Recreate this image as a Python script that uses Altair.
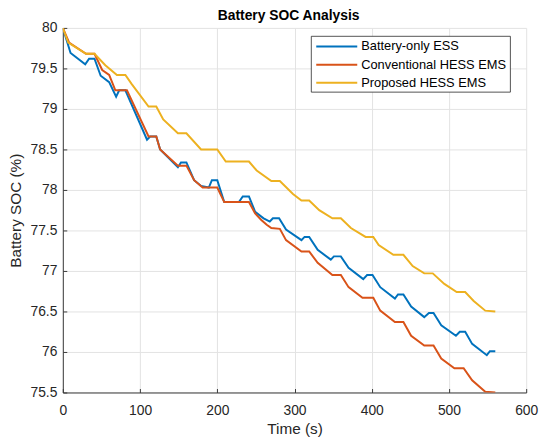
import altair as alt
import pandas as pd

# ---------------- data ----------------
series_names = ["Battery-only ESS", "Conventional HESS EMS", "Proposed HESS EMS"]
series_colors = ["#0072BD", "#D95319", "#EDB120"]

t_battery = [0, 10, 29, 34, 41, 49, 60, 69, 73, 81, 109, 113, 121, 126, 149, 153, 160,
             170, 179, 189, 193, 200, 209, 228, 233, 241, 249, 260, 268, 272, 280, 289,
             309, 313, 319, 330, 347, 351, 360, 370, 389, 394, 401, 411, 430, 434, 441,
             451, 468, 474, 480, 490, 509, 514, 521, 530, 549, 553, 560]
soc_battery = [80, 79.69, 79.55, 79.62, 79.62, 79.41, 79.33, 79.15, 79.23, 79.23, 78.62,
               78.66, 78.66, 78.50, 78.28, 78.34, 78.34, 78.12, 78.05, 78.03, 78.12, 78.12,
               77.85, 77.85, 77.92, 77.92, 77.73, 77.65, 77.61, 77.65, 77.65, 77.51, 77.38,
               77.42, 77.42, 77.26, 77.14, 77.18, 77.18, 77.04, 76.90, 76.95, 76.95, 76.80,
               76.66, 76.71, 76.71, 76.56, 76.43, 76.48, 76.48, 76.33, 76.20, 76.25, 76.25,
               76.10, 75.96, 76.01, 76.01]

t_conv = [0, 8, 30, 41, 51, 60, 68, 83, 111, 121, 126, 149, 160, 170, 181, 200, 209, 241,
          249, 257, 264, 270, 281, 289, 309, 319, 330, 349, 360, 370, 388, 402, 411, 430,
          441, 451, 468, 480, 490, 507, 519, 530, 547, 560]
soc_conv = [80, 79.82, 79.68, 79.68, 79.48, 79.42, 79.23, 79.23, 78.66, 78.66, 78.50, 78.30,
            78.30, 78.12, 78.03, 78.03, 77.85, 77.85, 77.71, 77.63, 77.57, 77.53, 77.52,
            77.38, 77.24, 77.24, 77.10, 76.95, 76.95, 76.80, 76.67, 76.67, 76.51, 76.37,
            76.37, 76.20, 76.08, 76.08, 75.92, 75.80, 75.80, 75.65, 75.51, 75.50]

t_prop = [0, 7, 30, 41, 55, 70, 81, 89, 111, 121, 130, 149, 160, 179, 200, 211, 241, 251,
          270, 281, 298, 309, 319, 332, 349, 360, 373, 392, 402, 409, 428, 441, 453, 468,
          479, 494, 510, 521, 532, 547, 560]
soc_prop = [80, 79.82, 79.68, 79.68, 79.54, 79.42, 79.42, 79.31, 79.03, 79.03, 78.87, 78.70,
            78.70, 78.50, 78.50, 78.35, 78.35, 78.24, 78.11, 78.11, 77.95, 77.87, 77.87,
            77.75, 77.65, 77.65, 77.53, 77.42, 77.42, 77.32, 77.20, 77.20, 77.06, 76.97,
            76.97, 76.84, 76.74, 76.74, 76.63, 76.51, 76.50]

x_ticks = [0, 100, 200, 300, 400, 500, 600]
y_ticks = [75.5, 76, 76.5, 77, 77.5, 78, 78.5, 79, 79.5, 80]

# ---------------- styling ----------------
FONT = "Liberation Sans"
W, H = 469, 369
AX = "#262626"
GRID = "#e3e3e3"

xscale = alt.Scale(domain=[0, 600], nice=False, zero=False)
yscale = alt.Scale(domain=[75.5, 80], nice=False, zero=False)

xaxis = alt.Axis(values=x_ticks, format="d", grid=True, gridColor=GRID, gridWidth=1,
                 domainColor="#3a3a3a", domainWidth=1, tickColor="#3a3a3a",
                 tickSize=alt.ExprRef(expr="-4"), labelPadding=15,
                 labelFont=FONT, labelFontSize=14, labelColor=AX,
                 titleFont=FONT, titleFontSize=15.5, titleFontWeight="normal", titleColor=AX,
                 titleX=W / 2, titleY=37, titleBaseline="middle", titleAlign="center",
                 labelFlush=False)
yaxis = alt.Axis(values=y_ticks, format="~g", grid=True, gridColor=GRID, gridWidth=1,
                 domainColor="#3a3a3a", domainWidth=1, tickColor="#3a3a3a",
                 tickSize=alt.ExprRef(expr="-4"), labelPadding=10,
                 labelFont=FONT, labelFontSize=14, labelColor=AX,
                 titleFont=FONT, titleFontSize=15.5, titleFontWeight="normal", titleColor=AX,
                 titleX=-48, titleY=H / 2, titleBaseline="middle", titleAlign="center",
                 labelFlush=False, labelOverlap=False)

layers = []
for name, t, v, c in zip(series_names, [t_battery, t_conv, t_prop],
                         [soc_battery, soc_conv, soc_prop], series_colors):
    df = pd.DataFrame({"t": t, "soc": v, "series": name})
    layers.append(
        alt.Chart(df).mark_line(color=c, strokeWidth=2, clip=True).encode(
            x=alt.X("t:Q", scale=xscale, axis=xaxis, title="Time (s)"),
            y=alt.Y("soc:Q", scale=yscale, axis=yaxis, title="Battery SOC (%)"),
        )
    )

# ---------------- legend (drawn manually, MATLAB style) ----------------
one = pd.DataFrame({"a": [0]})
legend_layers = [
    alt.Chart(one).mark_rect(fill="white", stroke="#262626", strokeWidth=0.8).encode(
        x=alt.value(251.5), x2=alt.value(453), y=alt.value(8.5), y2=alt.value(65))
]
for i, (name, c) in enumerate(zip(series_names, series_colors)):
    yy = 18.8 + 18.4 * i
    legend_layers.append(
        alt.Chart(one).mark_rule(color=c, strokeWidth=2).encode(
            x=alt.value(256.5), x2=alt.value(298), y=alt.value(yy)))
    legend_layers.append(
        alt.Chart(one).mark_text(align="left", baseline="middle", font=FONT,
                                 fontSize=13, color="#000000").encode(
            x=alt.value(302), y=alt.value(yy), text=alt.value(name)))

chart = alt.layer(*layers, *legend_layers).properties(
    width=W, height=H,
    title=alt.Title("Battery SOC Analysis", font=FONT, fontSize=14, fontWeight="bold",
                    color="#000000", anchor="middle", frame="group", offset=0,
                    baseline="alphabetic", dx=-6, dy=13),
    autosize=alt.AutoSizeParams(type="none"),
    padding={"left": 55.5, "top": 17.5, "right": 16, "bottom": 50},
).configure_view(stroke=None)

chart.save("out.html", embed_options={"renderer": "svg", "actions": False})
